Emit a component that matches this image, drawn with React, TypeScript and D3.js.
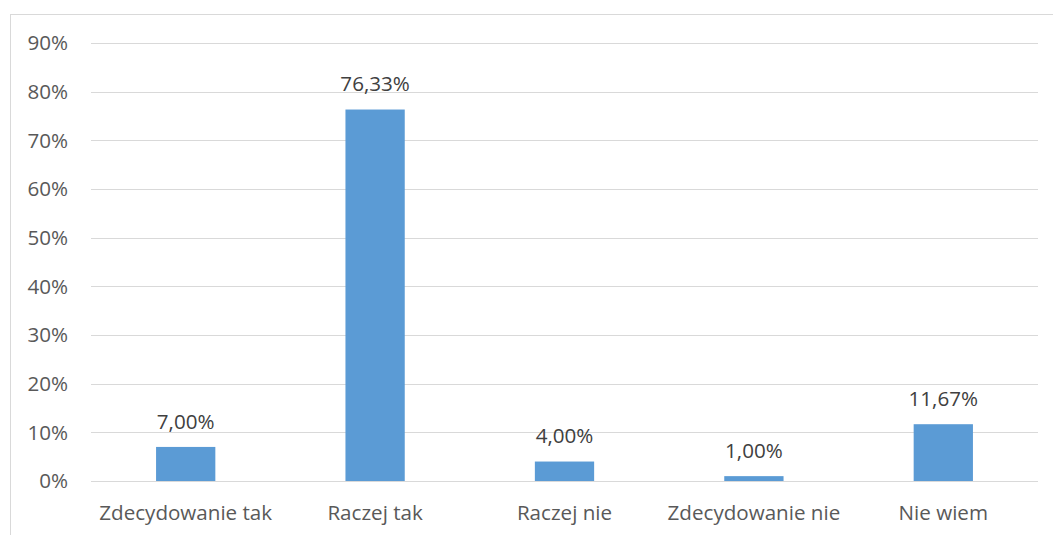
import React from "react";
import * as d3 from "d3";

const categories = ["Zdecydowanie tak", "Raczej tak", "Raczej nie", "Zdecydowanie nie", "Nie wiem"];
const values = [7.0, 76.33, 4.0, 1.0, 11.67];
const yTicks = [0, 10, 20, 30, 40, 50, 60, 70, 80, 90];

const W = 1053;
const H = 535;
const FONT = "'Open Sans', sans-serif";
const FS = 20.6;

export default function App() {
  const x = d3
    .scaleBand<string>()
    .domain(categories)
    .range([91, 1038])
    .paddingInner(0.687)
    .paddingOuter(0.3435);
  const y = d3.scaleLinear().domain([0, 90]).range([481, 43]);
  const fmt = (v: number) => v.toFixed(2).replace(".", ",") + "%";

  return (
    <svg
      width={W}
      height={H}
      style={{ position: "absolute", left: 0, top: 0, background: "#fff" }}
    >
      <rect x={10.5} y={14.5} width={1060} height={540} fill="#fff" stroke="#d9d9d9" strokeWidth={1} />
      {yTicks.map((t) => (
        <g key={t}>
          <line x1={91} x2={1038} y1={Math.round(y(t)) + 0.5} y2={Math.round(y(t)) + 0.5} stroke="#d9d9d9" strokeWidth={1} />
          <text
            x={68}
            y={y(t) + 7.4}
            textAnchor="end"
            fontFamily={FONT}
            fontSize={FS}
            fill="#595959"
          >
            {t}%
          </text>
        </g>
      ))}
      {categories.map((c, i) => (
        <g key={c}>
          <rect
            x={x(c)}
            y={y(values[i])}
            width={x.bandwidth()}
            height={y(0) - y(values[i])}
            fill="#5b9bd5"
          />
          <text
            x={(x(c) as number) + x.bandwidth() / 2}
            y={y(values[i]) - 18.3}
            textAnchor="middle"
            fontFamily={FONT}
            fontSize={FS}
            fill="#404040"
          >
            {fmt(values[i])}
          </text>
          <text
            x={(x(c) as number) + x.bandwidth() / 2}
            y={520}
            textAnchor="middle"
            fontFamily={FONT}
            fontSize={FS}
            fill="#595959"
          >
            {c}
          </text>
        </g>
      ))}
    </svg>
  );
}
